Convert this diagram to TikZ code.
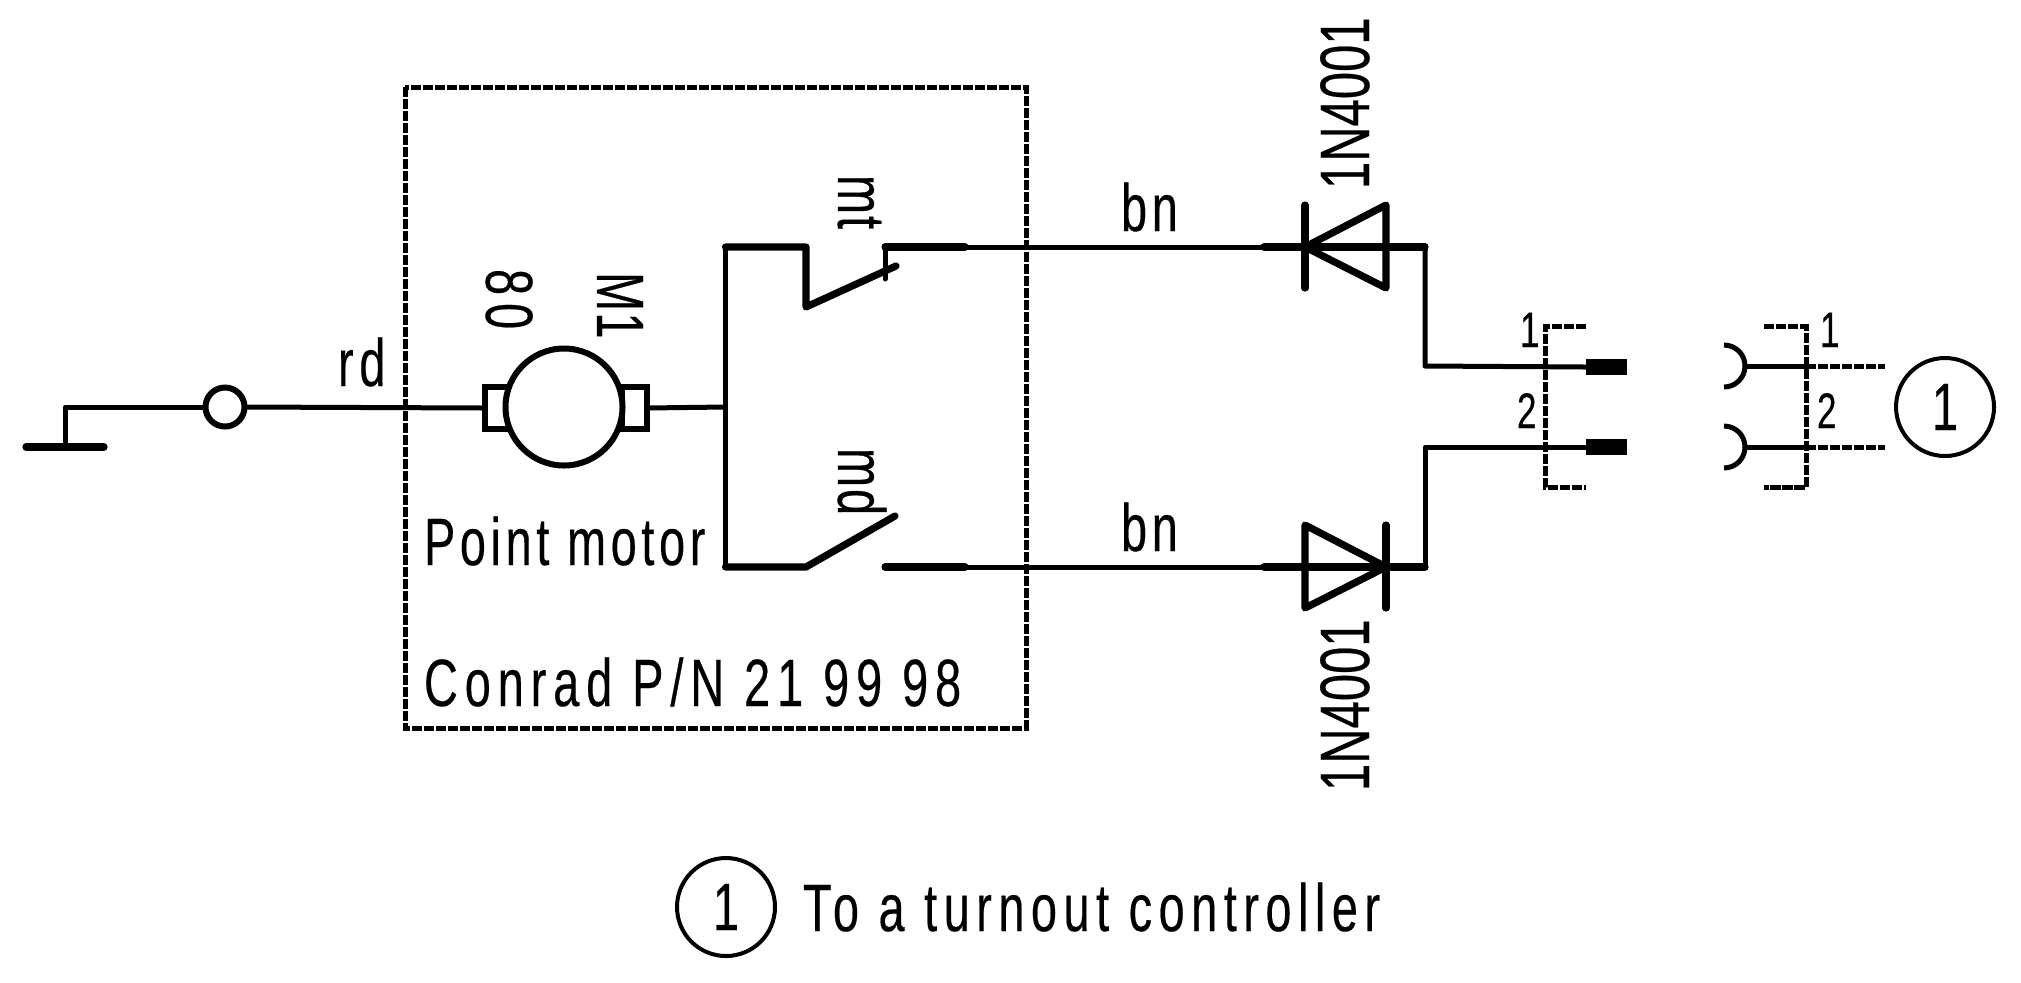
\documentclass[tikz,border=0pt]{standalone}
\usepackage{fontspec}
\setmainfont[FakeStretch=0.7,LetterSpace=8.5,FakeBold=0.3]{Liberation Sans}
\newfontfamily\partfont[FakeStretch=0.7,FakeBold=0.3]{Liberation Sans}
\newcommand{\txtL}{\fontsize{33.5}{36}\selectfont}
\newcommand{\txtP}{\partfont\fontsize{35}{38}\selectfont}
\newcommand{\txtS}{\fontsize{25}{28}\selectfont}
\tikzset{
  wire/.style={line width=2.5pt,line cap=round,line join=round},
  heavy/.style={line width=3.6pt,line cap=round,line join=round},
  dashline/.style={line width=2.5pt,dash pattern=on 5.2pt off 0.8pt},
  lab/.style={inner sep=0pt,outer sep=0pt,anchor=base west,font=\txtL},
  labP/.style={lab,font=\txtP},
  labS/.style={lab,font=\txtS},
  pin/.style={draw=none,fill=black,minimum width=20.5pt,minimum height=8pt,inner sep=0pt,outer sep=0pt},
  ring/.style={draw,circle,inner sep=0pt,outer sep=0pt,fill=white},
  brush/.style={draw,line width=3pt,inner sep=0pt,outer sep=0pt,minimum width=12.5pt,minimum height=21pt},
}
\begin{document}
\begin{tikzpicture}[x=0.5pt,y=-0.5pt]
\useasboundingbox (0,0) rectangle (2021,982);
% coordinates
\coordinate (gndL) at (26,447); \coordinate (gndR) at (104,447); \coordinate (gndT) at (65,447); \coordinate (gndC) at (65,407);
\coordinate (jT) at (725.5,247); \coordinate (jM) at (725.5,407); \coordinate (jB) at (725.5,567);
\coordinate (s1a) at (806,247); \coordinate (s1b) at (806,307); \coordinate (s1c) at (896,266);
\coordinate (s1d) at (885,279); \coordinate (s1e) at (885,247); \coordinate (s1f) at (965,247);
\coordinate (s2a) at (806,567); \coordinate (s2c) at (895,516); \coordinate (s2e) at (885,567); \coordinate (s2f) at (965,567);
\coordinate (d1k) at (1305,247); \coordinate (d1kt) at (1305,205); \coordinate (d1kb) at (1305,288);
\coordinate (d1at) at (1386,205); \coordinate (d1ab) at (1386,288); \coordinate (d1in) at (1264,247); \coordinate (d1out) at (1425,247);
\coordinate (d2a) at (1386,567); \coordinate (d2kt) at (1386,525); \coordinate (d2kb) at (1386,608);
\coordinate (d2at) at (1305,525); \coordinate (d2ab) at (1305,608); \coordinate (d2in) at (1264,567); \coordinate (d2out) at (1425,567);
\coordinate (c1) at (1425,366); \coordinate (c2) at (1425,447);
\coordinate (so1) at (1745,366); \coordinate (so2) at (1745,447);
\coordinate (br1) at (1806,366); \coordinate (br2) at (1806,447);
\coordinate (end1) at (1885,366); \coordinate (end2) at (1885,447);
% box
\draw[dashline] (405,87) rectangle (1026,728);
% nodes
\node[brush,anchor=center] (bl) at (497,408) {};
\node[brush,anchor=center] (br) at (634,408) {};
\node[ring,line width=3pt,minimum size=58.5pt] (motor) at (564,407) {};
\node[ring,line width=3pt,minimum size=19.5pt] (term) at (225,407) {};
\node[pin] (p1) at (1606,367) {};
\node[pin] (p2) at (1606,447) {};
\node[ring,line width=2pt,minimum size=49pt] (ref) at (1945,407) {\txtL 1};
\node[ring,line width=2pt,minimum size=49pt] (legend) at (726,907) {\txtL 1};
% wires
\draw[heavy] (gndL) -- (gndR);
\draw[wire] (gndT) -- (gndC) -- (term.west);
\draw[wire] (term.east) -- (bl.west);
\draw[wire] (br.east) -- (jM);
\draw[wire] (jT) -- (jB);
\draw[heavy] (jT) -- (s1a) -- (s1b) -- (s1c);
\draw[wire] (s1d) -- (s1e);
\draw[heavy] (s1e) -- (s1f);
\draw[heavy] (jB) -- (s2a) -- (s2c);
\draw[heavy] (s2e) -- (s2f);
\draw[wire] (s1f) -- (d1in);
\draw[wire] (s2f) -- (d2in);
% diodes
\draw[heavy] (d1in) -- (d1out);
\draw[heavy] (d1kt) -- (d1kb);
\draw[heavy] (d1k) -- (d1at) -- (d1ab) -- cycle;
\draw[heavy] (d2in) -- (d2out);
\draw[heavy] (d2kt) -- (d2kb);
\draw[heavy] (d2a) -- (d2at) -- (d2ab) -- cycle;
% connector wiring
\draw[wire] (d1out) -- (c1) -- (p1.west);
\draw[wire] (d2out) -- (c2) -- (p2.west);
\draw[dashline] (1586,326.5) -- (1545,326.5) -- (1545,487) -- (1586,487);
\draw[dashline] (1764,326.5) -- (1806,326.5) -- (1806,487) -- (1764,487);
\draw[wire] (so1) -- (br1);
\draw[wire] (so2) -- (br2);
\draw[dashline] (br1) -- (end1);
\draw[dashline] (br2) -- (end2);
\draw[wire,line cap=butt] (1724,345) arc[start angle=-90,end angle=90,radius=21];
\draw[wire,line cap=butt] (1724,426) arc[start angle=-90,end angle=90,radius=21];
% labels
\node[lab] (trd) at (338,386) {rd};
\node[lab] (tpm) at (424,565) {\addfontfeature{LetterSpace=6.9}Point motor};
\node[lab] (tcp) at (424,706) {\addfontfeature{LetterSpace=10.3}Conrad P/N 21 99 98};
\node[lab,rotate=-90] (t80) at (486,269) {\addfontfeature{LetterSpace=12}80};
\node[lab,rotate=-90] (tm1) at (597,272) {\addfontfeature{LetterSpace=2}M1};
\node[lab,rotate=-90] (tmt) at (838,175) {\addfontfeature{LetterSpace=3}mt};
\node[lab,rotate=-90] (tmd) at (838,448) {\addfontfeature{LetterSpace=3}md};
\node[lab] (tbn1) at (1121,231) {\addfontfeature{LetterSpace=7}bn};
\node[lab] (tbn2) at (1121,551) {\addfontfeature{LetterSpace=7}bn};
\node[labP,rotate=90] (td1) at (1369,189) {1N4001};
\node[labP,rotate=90] (td2) at (1369,791) {1N4001};
\node[labS] (tl1) at (1520,347) {1};
\node[labS] (tl2) at (1517,428) {2};
\node[labS] (tr1) at (1820,347) {1};
\node[labS] (tr2) at (1817,428) {2};
\node[lab] (tlg) at (803,931) {\addfontfeature{LetterSpace=9.7}To a turnout controller};
\end{tikzpicture}
\end{document}
